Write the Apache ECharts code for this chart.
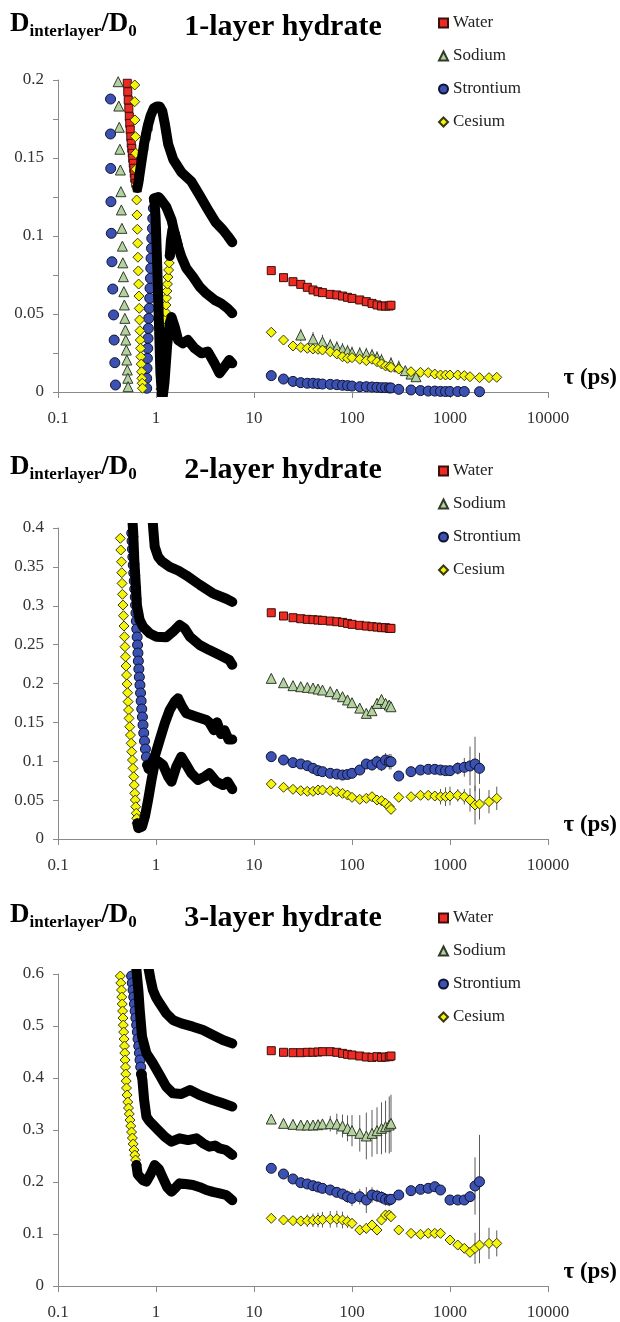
<!DOCTYPE html>
<html>
<head>
<meta charset="utf-8">
<script src="https://cdn.jsdelivr.net/npm/echarts@6/dist/echarts.min.js"></script>
<style>html,body{margin:0;padding:0;background:#fff}#c{width:620px;height:1322px}</style>
</head>
<body>
<div id="c"></div>
<script>
// ---------------- DATA ----------------
const TAU = [15,20,25,30,35,40,45,50,60,70,80,90,100,120,140,160,180,200,220,240,250];
const TAU_P1_NA = [30,40,50,60,70,80,90,100,120,140,160,180,200,250,300,350,400,450];
const TAU_P1_SR_TAIL = [300,400,500,600,700,800,900,1000,1200,1400,2000];
const TAU_P1_CS_TAIL = [300,400,500,600,700,800,900,1000,1200,1400,1600,2000,2500,3000];
const TAU_P2_SR_TAIL = [300,400,500,600,700,800,900,1000,1200,1400,1600,1800,2000];
const TAU_P2_CS_TAIL = [300,400,500,600,700,800,900,1000,1200,1400,1600,1800,2000,2500,3000];
const TAU_P3_SR_TAIL = [300,400,500,600,700,800,1000,1200,1400,1600,1800,2000];
const TAU_P3_CS_TAIL = [300,400,500,600,700,800,1000,1200,1400,1600,1800,2000,2500,3000];

const X_TICKS = [0.1, 1, 10, 100, 1000, 10000];
const PANEL_TITLES = ['1-layer hydrate', '2-layer hydrate', '3-layer hydrate'];
const SPECIES = ['Water', 'Sodium', 'Strontium', 'Cesium'];
const Y_MAX = [0.2, 0.4, 0.6];
const Y_STEP = [0.025, 0.05, 0.1];
const Y_LABEL_STEP = [0.05, 0.05, 0.1];

// ---- Panel 1 (1-layer) ----
const p1WaterDropX = [0.509,0.515,0.521,0.528,0.534,0.54,0.546,0.553,0.559,0.566,0.573,0.579,0.586,0.593,0.6,0.607,0.622,0.644];
const p1WaterDropY = [0.1979,0.1925,0.1871,0.1819,0.1765,0.1722,0.168,0.1636,0.1594,0.1562,0.153,0.1498,0.1466,0.1434,0.1402,0.137,0.1338,0.1308];
const p1WaterRiseX = [0.67,0.71,0.75,0.79,0.83];
const p1WaterRiseY = [0.138,0.148,0.157,0.164,0.17];
const p1WaterCurveX = [0.644,0.66,0.7,0.76,0.82,0.88,0.95,1.02,1.09,1.16,1.23,1.33,1.5,1.81,2.29,2.79,3.38,4.04,4.81,5.4,6.0];
const p1WaterCurveY = [0.1308,0.134,0.145,0.16,0.17,0.177,0.182,0.183,0.183,0.18,0.172,0.159,0.149,0.141,0.135,0.126,0.117,0.109,0.104,0.1,0.096];
const p1WaterLong = [0.0778,0.0733,0.0707,0.069,0.0671,0.0654,0.0643,0.0637,0.0626,0.0622,0.0615,0.0607,0.06,0.059,0.0579,0.0568,0.0558,0.0551,0.0551,0.0551,0.0556];
const p1WaterErr = [0.001,0.001,0.001,0.001,0.001,0.001,0.001,0.001,0.001,0.002,0.002,0.002,0.002,0.002,0.003,0.003,0.003,0.003,0.003,0.003,0.003];

const p1SodiumDropX = [0.411,0.417,0.422,0.428,0.433,0.438,0.443,0.449,0.454,0.459,0.465,0.47,0.476,0.481,0.487,0.492,0.498,0.504,0.51,0.516,0.519];
const p1SodiumDropY = [0.1989,0.1833,0.1697,0.1556,0.1423,0.1284,0.1167,0.1049,0.0935,0.0828,0.0739,0.0643,0.0558,0.0472,0.0397,0.0333,0.0269,0.0205,0.0141,0.0088,0.0034];
const p1SodiumCurveX = [0.95,1.0,1.06,1.13,1.27,1.44,1.55,1.68,1.81,2.04,2.38,2.79,3.26,3.95,4.62,5.38,6.0];
const p1SodiumCurveY = [0.124,0.1245,0.125,0.1231,0.1188,0.1103,0.1017,0.0932,0.0868,0.0793,0.0739,0.0675,0.0632,0.059,0.0568,0.0536,0.0505];
const p1SodiumLong = [0.0365,0.034,0.0322,0.0301,0.0286,0.0274,0.0263,0.0252,0.0248,0.0244,0.0237,0.0222,0.0205,0.0184,0.0162,0.0137,0.0115,0.0098];
const p1SodiumErr = [0.004,0.0045,0.0045,0.004,0.004,0.004,0.004,0.004,0.004,0.004,0.004,0.004,0.004,0.004,0.004,0.003,0.003,0.003];

const p1StrontiumDropX = [0.3436,0.3436,0.345,0.347,0.35,0.355,0.362,0.369,0.374,0.38,0.386];
const p1StrontiumDropY = [0.1878,0.1654,0.1433,0.122,0.1017,0.0835,0.066,0.0494,0.0333,0.0188,0.0045];
const p1StrontiumRiseX = [0.804,0.804,0.81,0.817,0.823,0.829,0.836,0.843,0.856,0.863,0.869,0.877,0.884,0.89,0.899,0.905,0.92,0.926,0.941,0.963];
const p1StrontiumRiseY = [0.0024,0.0088,0.0152,0.0216,0.028,0.0344,0.0408,0.0472,0.0537,0.0601,0.0665,0.0729,0.0793,0.0857,0.0921,0.0985,0.1049,0.1113,0.1178,0.1231];
const p1StrontiumCurveX = [0.963,0.99,1.03,1.07,1.11,1.16,1.22,1.3,1.38,1.44,1.55,1.68,1.88,2.12,2.48,2.9,3.38,3.95,4.45,5.0,5.6,6.0];
const p1StrontiumCurveY = [0.1231,0.112,0.08,0.045,0.012,-0.005,0.006,0.03,0.044,0.048,0.042,0.0333,0.0312,0.0333,0.028,0.0248,0.0259,0.0184,0.012,0.0162,0.0205,0.0184];
const p1StrontiumLong = [0.0105,0.0083,0.0068,0.006,0.0056,0.0056,0.0053,0.0051,0.0049,0.0047,0.0043,0.0041,0.0038,0.0034,0.0034,0.0032,0.003,0.0028,0.0028,0.0026,0.0026];
const p1StrontiumTail = [0.0017,0.0013,0.0009,0.0006,0.0006,0.0004,0.0003,0.0003,0.0003,0.0003,0.0002];

const p1CesiumDropX = [0.607,0.607,0.611,0.617,0.621,0.625,0.631,0.635,0.64,0.645,0.65,0.654,0.66,0.665,0.67,0.675,0.68,0.685,0.691,0.696,0.701,0.707,0.712,0.717,0.723,0.728];
const p1CesiumDropY = [0.1968,0.1861,0.1744,0.1637,0.153,0.1428,0.1331,0.1231,0.1135,0.1043,0.0954,0.0864,0.0776,0.0692,0.0615,0.0536,0.0462,0.0393,0.0333,0.028,0.0226,0.0179,0.013,0.0088,0.0056,0.0024];
const p1CesiumRiseX = [1.1215,1.1293,1.1398,1.1505,1.1613,1.1722,1.1832,1.1943,1.2055,1.2197,1.234,1.2485,1.2632,1.278,1.293,1.3082,1.3267,1.3455,1.3645,1.3838];
const p1CesiumRiseY = [0.0019,0.0064,0.0109,0.0154,0.0199,0.0244,0.0288,0.0333,0.0378,0.0423,0.0468,0.0513,0.0558,0.0603,0.0647,0.0692,0.0737,0.0782,0.0827,0.0872];
const p1CesiumCurveX = [1.3838,1.42,1.47,1.55,1.68];
const p1CesiumCurveY = [0.0872,0.097,0.104,0.1017,0.0932];
const p1CesiumLong = [0.0383,0.0333,0.0295,0.0286,0.028,0.0276,0.0274,0.0269,0.0258,0.0244,0.0226,0.0216,0.022,0.021,0.0201,0.021,0.0194,0.018,0.0167,0.0162,0.0158];
const p1CesiumErr = [0.001,0.001,0.001,0.001,0.001,0.001,0.001,0.001,0.0015,0.0015,0.0015,0.0015,0.002,0.002,0.002,0.002,0.002,0.002,0.002,0.002,0.002];
const p1CesiumTail = [0.0147,0.013,0.0126,0.0124,0.0115,0.0109,0.0109,0.0109,0.0109,0.0105,0.0098,0.0092,0.0092,0.0094];

// ---- Panel 2 (2-layer) ----
const p2WaterCurveX = [0.91,0.94,0.97,1.05,1.15,1.38,1.7,2.04,2.79,3.8,5.2,6.0];
const p2WaterCurveY = [0.42,0.397,0.376,0.363,0.357,0.35,0.345,0.339,0.327,0.316,0.309,0.305];
const p2WaterLong = [0.291,0.2868,0.2846,0.2833,0.2825,0.2821,0.2816,0.2812,0.2803,0.2795,0.2786,0.2773,0.2761,0.2748,0.2739,0.2731,0.2726,0.2718,0.2718,0.2709,0.2709];
const p2WaterErr = [0.001,0.002,0.003,0.004,0.004,0.004,0.004,0.004,0.003,0.003,0.003,0.003,0.003,0.003,0.003,0.003,0.004,0.004,0.004,0.004,0.004];

const p2SodiumDropX = [0.585,0.593,0.6,0.61,0.62,0.63];
const p2SodiumDropY = [0.395,0.375,0.36,0.345,0.33,0.315];
const p2SodiumCurveX = [0.56,0.585,0.6,0.62,0.64,0.68,0.738,0.863,1.01,1.27,1.49,1.74,1.96,2.22,2.79,3.5,4.45,5.6,6.0];
const p2SodiumCurveY = [0.43,0.395,0.36,0.33,0.3,0.282,0.273,0.2645,0.2602,0.2594,0.2666,0.2752,0.2709,0.2602,0.2495,0.243,0.2366,0.2302,0.224];
const p2SodiumLong = [0.2066,0.201,0.1972,0.1959,0.195,0.1942,0.1929,0.1916,0.1895,0.1865,0.183,0.1788,0.1753,0.1684,0.1616,0.165,0.1744,0.1795,0.1744,0.1723,0.1701];
const p2SodiumErr = [0.001,0.001,0.001,0.002,0.002,0.002,0.002,0.002,0.003,0.003,0.003,0.003,0.003,0.004,0.004,0.005,0.006,0.006,0.006,0.006,0.006];

const p2StrontiumDropX = [0.5657,0.5697,0.5751,0.5805,0.5861,0.5929,0.5999,0.6071,0.6143,0.6186,0.6244,0.6302,0.6363,0.6422,0.6483,0.6544,0.6605,0.6683,0.6762,0.6858,0.6955,0.7053,0.7153,0.727,0.7373,0.7496,0.7638,0.78,0.7984,0.8193];
const p2StrontiumDropY = [0.3935,0.3832,0.3729,0.3627,0.3524,0.3421,0.3318,0.3215,0.3112,0.3009,0.2906,0.2803,0.2701,0.2598,0.2495,0.2392,0.2289,0.2186,0.2083,0.198,0.1878,0.1775,0.1672,0.1569,0.1466,0.1363,0.126,0.1157,0.1055,0.0952];
const p2StrontiumCurveX = [0.8193,0.84,0.87,0.97,1.09,1.23,1.38,1.55,1.68,1.85,2.04,2.58,3.26,3.5,3.9,4.2,4.6,5.0,5.5,6.0];
const p2StrontiumCurveY = [0.0952,0.09,0.088,0.1059,0.1273,0.1488,0.1659,0.1766,0.1809,0.1701,0.1616,0.1573,0.153,0.15,0.14,0.15,0.135,0.14,0.128,0.128];
const p2StrontiumLong = [0.1059,0.1016,0.0982,0.0965,0.0943,0.0909,0.0879,0.0866,0.0845,0.0835,0.0823,0.083,0.0845,0.0887,0.0965,0.0952,0.0994,0.0952,0.1016,0.0994,0.0994];
const p2StrontiumErr = [0.001,0.001,0.002,0.002,0.002,0.003,0.003,0.003,0.003,0.004,0.004,0.004,0.005,0.006,0.006,0.007,0.008,0.008,0.009,0.01,0.01];
const p2StrontiumTail = [0.081,0.0866,0.0887,0.0896,0.0896,0.0887,0.0879,0.0879,0.0909,0.0922,0.0939,0.0965,0.0909];
const p2StrontiumTailErr = [0.003,0.003,0.003,0.003,0.004,0.004,0.005,0.005,0.008,0.012,0.025,0.035,0.02];

const p2CesiumDropX = [0.4322,0.4373,0.4446,0.4477,0.4508,0.4551,0.4604,0.4659,0.4714,0.4769,0.4825,0.4882,0.494,0.5009,0.5068,0.5128,0.5188,0.5249,0.5311,0.5399,0.5488,0.5579,0.5657,0.5751,0.5834,0.5929,0.5999,0.6071,0.6143,0.6215,0.6289,0.6363,0.6438];
const p2CesiumDropY = [0.3867,0.3717,0.3566,0.3425,0.3288,0.3147,0.3009,0.2872,0.2739,0.2602,0.2473,0.2344,0.2225,0.2109,0.1993,0.1881,0.1766,0.1659,0.1552,0.1444,0.1337,0.1231,0.1123,0.1016,0.0909,0.0801,0.0694,0.0588,0.0502,0.0415,0.0331,0.0266,0.0202];
const p2CesiumCurveX = [0.6438,0.66,0.683,0.72,0.77,0.83,0.9,0.97,1.05,1.18,1.33,1.44,1.61,1.81,2.04,2.29,2.68,3.13,3.5,4.12,4.81,5.38,6.0];
const p2CesiumCurveY = [0.0202,0.014,0.0116,0.016,0.0287,0.05,0.0759,0.0973,0.1,0.0952,0.0802,0.0737,0.093,0.1059,0.0952,0.0845,0.0759,0.0802,0.0845,0.0737,0.0694,0.0737,0.064];
const p2CesiumLong = [0.0707,0.0665,0.0639,0.0621,0.0613,0.0613,0.063,0.063,0.0621,0.0609,0.0587,0.0566,0.0536,0.051,0.0523,0.0544,0.0502,0.0493,0.0459,0.0416,0.0381];
const p2CesiumErr = [0.001,0.001,0.002,0.002,0.002,0.002,0.003,0.003,0.003,0.003,0.003,0.003,0.004,0.004,0.004,0.005,0.005,0.006,0.006,0.006,0.006];
const p2CesiumTail = [0.0536,0.0544,0.0562,0.0562,0.0553,0.0544,0.0544,0.0553,0.0562,0.0544,0.0502,0.0437,0.045,0.048,0.0523];
const p2CesiumTailErr = [0.002,0.003,0.003,0.004,0.006,0.01,0.012,0.012,0.008,0.01,0.015,0.025,0.02,0.015,0.015];

// ---- Panel 3 (3-layer) ----
const p3WaterCurveX = [0.84,0.88,0.93,1.0,1.09,1.27,1.49,1.81,2.38,3.02,3.8,4.81,6.0];
const p3WaterCurveY = [0.61,0.59,0.569,0.555,0.5436,0.5244,0.5115,0.5051,0.4987,0.4923,0.4827,0.473,0.4666];
const p3WaterLong = [0.4525,0.4494,0.4487,0.4487,0.4494,0.4494,0.45,0.4506,0.4506,0.4494,0.4474,0.4455,0.4442,0.4423,0.4404,0.4397,0.441,0.4397,0.4404,0.441,0.4423];
const p3WaterErr = [0.002,0.002,0.002,0.003,0.003,0.003,0.003,0.003,0.003,0.003,0.004,0.004,0.004,0.004,0.004,0.004,0.004,0.004,0.004,0.004,0.004];

const p3SodiumCurveX = [0.63,0.66,0.683,0.72,0.798,0.93,1.09,1.27,1.49,1.81,2.22,2.79,3.8,4.81,6.0];
const p3SodiumCurveY = [0.61,0.57,0.53,0.48,0.4475,0.4282,0.4057,0.3833,0.3705,0.3692,0.3769,0.3673,0.3577,0.3513,0.345];
const p3SodiumLong = [0.3211,0.3128,0.3109,0.3096,0.3096,0.3096,0.3102,0.3115,0.3122,0.3115,0.3077,0.3032,0.2987,0.2936,0.2885,0.2936,0.2987,0.3032,0.3064,0.3096,0.3128];
const p3SodiumErr = [0.004,0.004,0.004,0.005,0.005,0.006,0.008,0.01,0.015,0.02,0.022,0.025,0.03,0.035,0.045,0.045,0.045,0.05,0.05,0.055,0.055];

const p3StrontiumDropX = [0.5633,0.5727,0.5834,0.5929,0.6028,0.6129,0.6231,0.6346,0.6452,0.6558,0.6667,0.6777,0.6872,0.6983,0.7096];
const p3StrontiumDropY = [0.5961,0.5827,0.5692,0.5557,0.5423,0.5288,0.5154,0.5019,0.4884,0.475,0.4615,0.4481,0.4346,0.4211,0.4077];
const p3StrontiumCurveX = [0.7096,0.727,0.757,0.798,0.85,0.9,1.05,1.23,1.44,1.74,2.12,2.58,3.02,3.5,4.0,4.45,5.2,6.0];
const p3StrontiumCurveY = [0.4077,0.396,0.3577,0.3256,0.318,0.3129,0.3,0.2871,0.2775,0.284,0.2807,0.284,0.2744,0.2679,0.27,0.2647,0.2615,0.252];
const p3StrontiumLong = [0.2263,0.2154,0.2058,0.1987,0.1962,0.1929,0.1904,0.1878,0.1846,0.1801,0.1769,0.1718,0.1686,0.1718,0.1654,0.175,0.1731,0.1705,0.1667,0.1654,0.1667];
const p3StrontiumErr = [0.003,0.003,0.004,0.005,0.006,0.008,0.01,0.01,0.01,0.008,0.01,0.012,0.015,0.015,0.025,0.015,0.012,0.012,0.012,0.012,0.01];
const p3StrontiumTail = [0.175,0.1833,0.1859,0.1878,0.191,0.1846,0.1654,0.1654,0.1654,0.1718,0.1923,0.2006];
const p3StrontiumTailErr = [0.003,0.003,0.003,0.004,0.005,0.005,0.005,0.005,0.006,0.01,0.055,0.09];

const p3CesiumDropX = [0.4322,0.4373,0.4446,0.4477,0.4519,0.4561,0.4604,0.4637,0.468,0.4725,0.4769,0.4803,0.4836,0.4882,0.4917,0.4963,0.4998,0.5068,0.5152,0.5237,0.5336,0.5425,0.5528,0.5633,0.5739,0.5848,0.5958,0.6071,0.6186,0.6317];
const p3CesiumDropY = [0.5961,0.5827,0.5692,0.5557,0.5423,0.5288,0.5154,0.5019,0.4884,0.475,0.4615,0.4481,0.4346,0.4211,0.4077,0.3942,0.3808,0.3673,0.3538,0.3423,0.3308,0.3192,0.3077,0.2961,0.2846,0.2731,0.2615,0.2519,0.2423,0.2327];
const p3CesiumCurveX = [0.6317,0.65,0.683,0.74,0.798,0.88,0.97,1.07,1.18,1.3,1.44,1.6,1.74,2.0,2.38,2.8,3.26,3.8,4.45,5.2,6.0];
const p3CesiumCurveY = [0.2327,0.215,0.2103,0.203,0.2006,0.215,0.2327,0.225,0.2071,0.19,0.1814,0.19,0.1974,0.196,0.1942,0.19,0.1846,0.181,0.1782,0.175,0.165];
const p3CesiumLong = [0.1301,0.1269,0.1256,0.125,0.1256,0.1263,0.1269,0.1275,0.1282,0.1288,0.1269,0.1237,0.1205,0.1077,0.1109,0.1173,0.1077,0.1269,0.1365,0.1365,0.1333];
const p3CesiumErr = [0.003,0.004,0.006,0.01,0.012,0.013,0.014,0.015,0.016,0.016,0.016,0.012,0.01,0.01,0.01,0.01,0.01,0.01,0.01,0.01,0.01];
const p3CesiumTail = [0.1077,0.1013,0.0994,0.1013,0.1013,0.1013,0.0885,0.0788,0.0724,0.0647,0.0724,0.0788,0.082,0.082];
const p3CesiumTailErr = [0.002,0.002,0.002,0.003,0.003,0.003,0.003,0.003,0.003,0.004,0.03,0.035,0.03,0.025];

// ---------------- STYLE / LAYOUT ----------------
const FONT = '"Liberation Serif", "Times New Roman", serif';
const GRID_TOP = [80, 528, 974];
const GRID_H = [312, 311, 312];
const GRID_LEFT = 58, GRID_W = 490;
const HEAD_Y = [27, 470, 918];
const LEGEND_TOP = [9, 457, 904];
const MARK = {
  Water:     {symbol: 'rect',     size: 8,  color: '#ee2b22', border: '#3a100c'},
  Sodium:    {symbol: 'triangle', size: 10, color: '#b3d29f', border: '#303a2a'},
  Strontium: {symbol: 'circle',   size: 10, color: '#3c52b2', border: '#101230'},
  Cesium:    {symbol: 'diamond',  size: 10, color: '#f5f50c', border: '#3a3a0c'}
};

function zip(xs, ys) { return xs.map((x, i) => [x, ys[i]]); }
function marks(g, sp, xs, ys, name) {
  const m = MARK[sp];
  return {
    type: 'scatter', name: name || (sp + '-' + g + '-' + xs.length + '-' + xs[0]),
    xAxisIndex: g, yAxisIndex: g, symbol: m.symbol, symbolSize: m.size,
    itemStyle: {color: m.color, borderColor: m.border, borderWidth: 1, opacity: 1},
    data: zip(xs, ys), clip: true, silent: true, animation: false
  };
}
function band(g, xs, ys) {
  return {
    type: 'line', xAxisIndex: g, yAxisIndex: g, data: zip(xs, ys),
    symbol: 'none', showSymbol: false, smooth: false,
    lineStyle: {color: '#000', width: 10, cap: 'round', join: 'round'},
    clip: true, silent: true, animation: false
  };
}
function errs(g, xs, ys, es) {
  return {
    type: 'custom', xAxisIndex: g, yAxisIndex: g,
    data: xs.map((x, i) => [x, ys[i], es[i]]),
    encode: {x: 0, y: 1},
    renderItem: function (params, api) {
      const x = api.value(0), y = api.value(1), e = api.value(2);
      const a = api.coord([x, y - e]), b = api.coord([x, y + e]);
      return {type: 'line', shape: {x1: a[0], y1: a[1], x2: b[0], y2: b[1]},
              style: {stroke: '#5a5a5a', lineWidth: 1}};
    },
    clip: true, silent: true, animation: false
  };
}

const series = [
  // Panel 1
  band(0, p1WaterCurveX, p1WaterCurveY),
  marks(0, 'Water', p1WaterDropX, p1WaterDropY),
  marks(0, 'Water', p1WaterRiseX, p1WaterRiseY),
  errs(0, TAU, p1WaterLong, p1WaterErr),
  marks(0, 'Water', TAU, p1WaterLong, 'Water'),
  band(0, p1SodiumCurveX, p1SodiumCurveY),
  marks(0, 'Sodium', p1SodiumDropX, p1SodiumDropY),
  errs(0, TAU_P1_NA, p1SodiumLong, p1SodiumErr),
  marks(0, 'Sodium', TAU_P1_NA, p1SodiumLong, 'Sodium'),
  band(0, p1StrontiumCurveX, p1StrontiumCurveY),
  marks(0, 'Strontium', p1StrontiumDropX, p1StrontiumDropY),
  marks(0, 'Strontium', p1StrontiumRiseX, p1StrontiumRiseY),
  marks(0, 'Strontium', TAU, p1StrontiumLong, 'Strontium'),
  marks(0, 'Strontium', TAU_P1_SR_TAIL, p1StrontiumTail),
  band(0, p1CesiumCurveX, p1CesiumCurveY),
  marks(0, 'Cesium', p1CesiumDropX, p1CesiumDropY),
  marks(0, 'Cesium', p1CesiumRiseX, p1CesiumRiseY),
  errs(0, TAU, p1CesiumLong, p1CesiumErr),
  marks(0, 'Cesium', TAU, p1CesiumLong, 'Cesium'),
  marks(0, 'Cesium', TAU_P1_CS_TAIL, p1CesiumTail),
  // Panel 2
  band(1, p2WaterCurveX, p2WaterCurveY),
  errs(1, TAU, p2WaterLong, p2WaterErr),
  marks(1, 'Water', TAU, p2WaterLong, 'Water'),
  band(1, p2SodiumCurveX, p2SodiumCurveY),
  marks(1, 'Sodium', p2SodiumDropX, p2SodiumDropY),
  errs(1, TAU, p2SodiumLong, p2SodiumErr),
  marks(1, 'Sodium', TAU, p2SodiumLong, 'Sodium'),
  band(1, p2StrontiumCurveX, p2StrontiumCurveY),
  marks(1, 'Strontium', p2StrontiumDropX, p2StrontiumDropY),
  errs(1, TAU, p2StrontiumLong, p2StrontiumErr),
  marks(1, 'Strontium', TAU, p2StrontiumLong, 'Strontium'),
  errs(1, TAU_P2_SR_TAIL, p2StrontiumTail, p2StrontiumTailErr),
  marks(1, 'Strontium', TAU_P2_SR_TAIL, p2StrontiumTail),
  band(1, p2CesiumCurveX, p2CesiumCurveY),
  marks(1, 'Cesium', p2CesiumDropX, p2CesiumDropY),
  errs(1, TAU, p2CesiumLong, p2CesiumErr),
  marks(1, 'Cesium', TAU, p2CesiumLong, 'Cesium'),
  errs(1, TAU_P2_CS_TAIL, p2CesiumTail, p2CesiumTailErr),
  marks(1, 'Cesium', TAU_P2_CS_TAIL, p2CesiumTail),
  // Panel 3
  band(2, p3WaterCurveX, p3WaterCurveY),
  errs(2, TAU, p3WaterLong, p3WaterErr),
  marks(2, 'Water', TAU, p3WaterLong, 'Water'),
  band(2, p3SodiumCurveX, p3SodiumCurveY),
  errs(2, TAU, p3SodiumLong, p3SodiumErr),
  marks(2, 'Sodium', TAU, p3SodiumLong, 'Sodium'),
  band(2, p3StrontiumCurveX, p3StrontiumCurveY),
  marks(2, 'Strontium', p3StrontiumDropX, p3StrontiumDropY),
  errs(2, TAU, p3StrontiumLong, p3StrontiumErr),
  marks(2, 'Strontium', TAU, p3StrontiumLong, 'Strontium'),
  errs(2, TAU_P3_SR_TAIL, p3StrontiumTail, p3StrontiumTailErr),
  marks(2, 'Strontium', TAU_P3_SR_TAIL, p3StrontiumTail),
  band(2, p3CesiumCurveX, p3CesiumCurveY),
  marks(2, 'Cesium', p3CesiumDropX, p3CesiumDropY),
  errs(2, TAU, p3CesiumLong, p3CesiumErr),
  marks(2, 'Cesium', TAU, p3CesiumLong, 'Cesium'),
  errs(2, TAU_P3_CS_TAIL, p3CesiumTail, p3CesiumTailErr),
  marks(2, 'Cesium', TAU_P3_CS_TAIL, p3CesiumTail)
];

const AXIS_GRAY = '#8a8a8a';
const grids = [0, 1, 2].map(i => ({left: GRID_LEFT, width: GRID_W, top: GRID_TOP[i], height: GRID_H[i]}));
const xAxes = [0, 1, 2].map(i => ({
  type: 'log', logBase: 10, gridIndex: i, min: X_TICKS[0], max: X_TICKS[X_TICKS.length - 1], splitNumber: 5,
  axisLine: {show: true, onZero: false, lineStyle: {color: AXIS_GRAY, width: 1}},
  axisTick: {show: true, inside: false, length: 6, lineStyle: {color: AXIS_GRAY}},
  minorTick: {show: false}, splitLine: {show: false},
  axisLabel: {margin: 18, fontFamily: FONT, fontSize: 17, color: '#333',
              formatter: v => String(+(+v).toPrecision(6))}
}));
const yAxes = [0, 1, 2].map(i => ({
  type: 'value', gridIndex: i, min: 0, max: Y_MAX[i], interval: Y_STEP[i],
  axisLine: {show: true, onZero: false, lineStyle: {color: AXIS_GRAY, width: 1}},
  axisTick: {show: true, inside: false, length: 5, lineStyle: {color: AXIS_GRAY}},
  splitLine: {show: false},
  axisLabel: {margin: 14, fontFamily: FONT, fontSize: 17, color: '#333',
    formatter: v => {
      const k = Math.round(v / Y_LABEL_STEP[i]);
      return Math.abs(v - k * Y_LABEL_STEP[i]) < 1e-9 ? String(+v.toFixed(3)) : '';
    }}
}));

const legends = [0, 1, 2].map(i => ({
  orient: 'vertical', left: 433, top: LEGEND_TOP[i], itemWidth: 9, itemHeight: 9, itemGap: 15,
  selectedMode: false, data: SPECIES,
  textStyle: {fontFamily: FONT, fontSize: 17, color: '#222', lineHeight: 18}
}));

const graphics = [];
[0, 1, 2].forEach(i => {
  graphics.push({
    type: 'text', x: 10, y: HEAD_Y[i] - 16, silent: true,
    style: {
      text: '{d|D}{s|interlayer}{d|/D}{s|0}',
      rich: {
        d: {fontFamily: FONT, fontWeight: 'bold', fontSize: 27, verticalAlign: 'top', fill: '#000', color: '#000'},
        s: {fontFamily: FONT, fontWeight: 'bold', fontSize: 17, verticalAlign: 'top', padding: [12, 0, 0, 0], fill: '#000', color: '#000'}
      }
    }
  });
  graphics.push({
    type: 'text', x: 283, y: HEAD_Y[i], silent: true,
    style: {text: PANEL_TITLES[i], font: 'bold 30px ' + FONT, fill: '#000',
            align: 'center', verticalAlign: 'middle', textAlign: 'center', textVerticalAlign: 'middle'}
  });
  graphics.push({
    type: 'text', x: 617, y: GRID_TOP[i] + GRID_H[i] - 14, silent: true,
    style: {text: 'τ (ps)', font: 'bold 23px ' + FONT, fill: '#000',
            align: 'right', verticalAlign: 'middle', textAlign: 'right', textVerticalAlign: 'middle'}
  });
});

const chart = echarts.init(document.getElementById('c'), null, {renderer: 'canvas'});
chart.setOption({
  animation: false,
  backgroundColor: '#ffffff',
  grid: grids, xAxis: xAxes, yAxis: yAxes, legend: legends,
  graphic: {elements: graphics},
  series: series
});
</script>
</body>
</html>
